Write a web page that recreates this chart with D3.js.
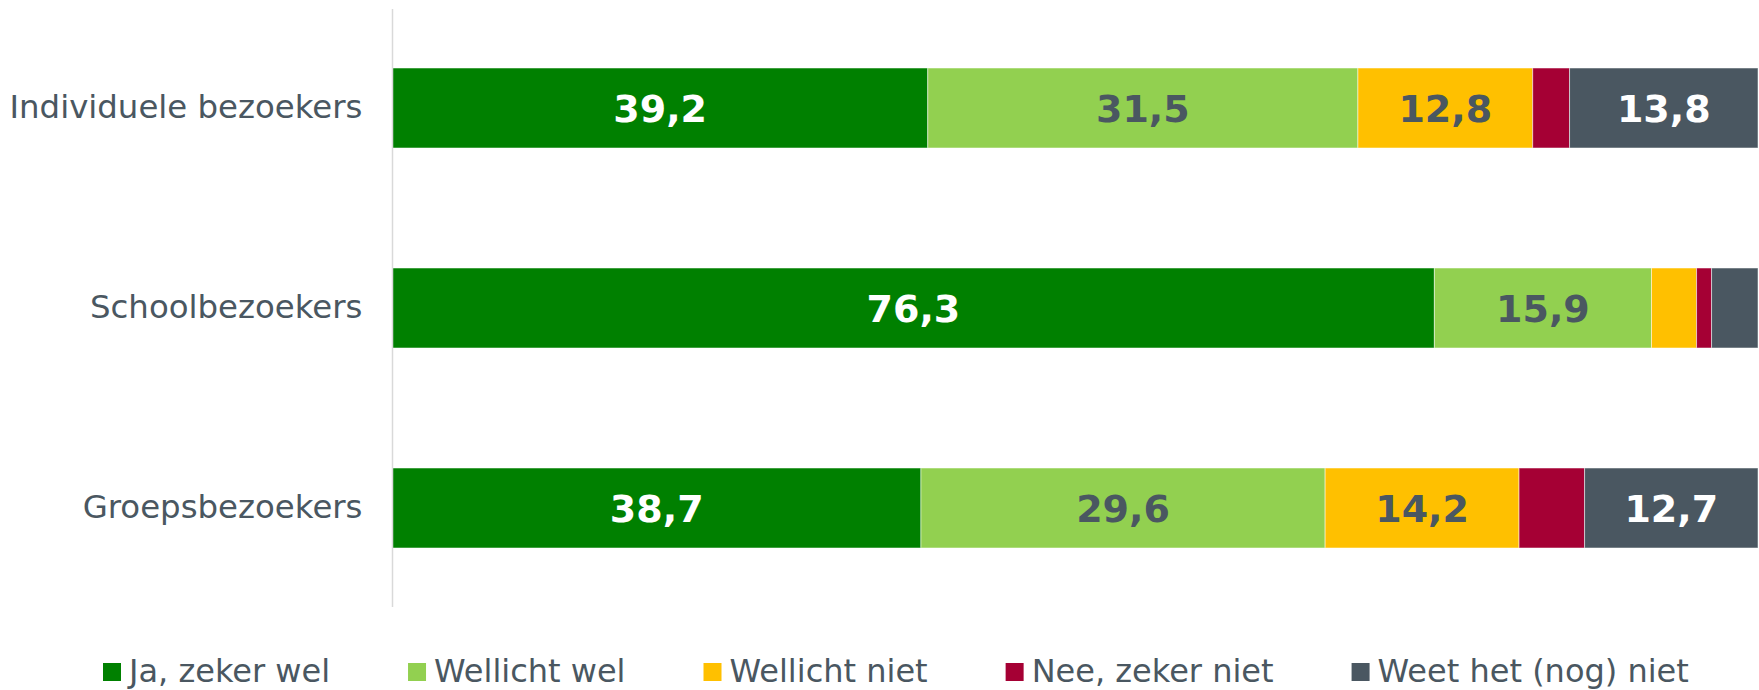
<!DOCTYPE html>
<html>
<head>
<meta charset="utf-8">
<script src="https://cdn.jsdelivr.net/npm/d3@7"></script>
<style>
  body { margin: 0; background: #fff; }
  svg { display: block; }
  text { font-family: "DejaVu Sans", Verdana, sans-serif; }
</style>
</head>
<body>
<div id="vis"></div>
<script>
// data
var categories = ["Individuele bezoekers", "Schoolbezoekers", "Groepsbezoekers"];
var seriesNames = ["Ja, zeker wel", "Wellicht wel", "Wellicht niet", "Nee, zeker niet", "Weet het (nog) niet"];
var jaZekerWel = [39.2, 76.3, 38.7];
var wellichtWel = [31.5, 15.9, 29.6];
var wellichtNiet = [12.8, 3.3, 14.2];
var neeZekerNiet = [2.7, 1.1, 4.8];
var weetNiet = [13.8, 3.4, 12.7];

var colors = ["#008000", "#92d050", "#ffc000", "#a50034", "#4a5761"];
var labelColors = ["#ffffff", "#4a5761", "#4a5761", "#ffffff", "#ffffff"];
var textColor = "#4a5761";

var W = 1759, H = 690;

var svg = d3.select("#vis").append("svg")
    .attr("width", W)
    .attr("height", H);

var x = d3.scaleLinear().domain([0, 100]).range([392.5, 1758]);
var y = d3.scaleBand().domain(categories).range([8, 608])
    .paddingInner(0.6).paddingOuter(0.3);

var rows = categories.map(function (c, i) {
    return {
        cat: c,
        0: jaZekerWel[i], 1: wellichtWel[i], 2: wellichtNiet[i],
        3: neeZekerNiet[i], 4: weetNiet[i]
    };
});
var stack = d3.stack().keys([0, 1, 2, 3, 4]);
var layers = stack(rows);

var g = svg.append("g");

var layer = g.selectAll(".layer")
    .data(layers)
    .enter().append("g")
    .attr("class", "layer")
    .attr("fill", function (d) { return colors[d.key]; });

layer.selectAll("rect")
    .data(function (d) { return d; })
    .enter().append("rect")
    .attr("x", function (d) { return x(d[0]); })
    .attr("y", function (d) { return y(d.data.cat); })
    .attr("width", function (d) { return x(d[1]) - x(d[0]); })
    .attr("height", y.bandwidth())
    .attr("stroke", "#ffffff")
    .attr("stroke-opacity", 0.5)
    .attr("stroke-width", 1);

// value labels only for the bigger pieces
layer.selectAll(".val")
    .data(function (d) { return d.map(function (p) { p.key = d.key; return p; }); })
    .enter().filter(function (d) { return d[1] - d[0] >= 10; })
    .append("text")
    .attr("class", "val")
    .attr("x", function (d) { return (x(d[0]) + x(d[1])) / 2; })
    .attr("y", function (d) { return y(d.data.cat) + y.bandwidth() / 2; })
    .attr("dy", "0.36em")
    .attr("text-anchor", "middle")
    .attr("font-size", 38)
    .attr("font-weight", "bold")
    .attr("fill", function (d) { return labelColors[d.key]; })
    .text(function (d) { return String(d3.format(".1f")(d[1] - d[0])).replace(".", ","); });

// axis line
var yAxis = d3.axisLeft(y).tickSize(0).tickPadding(30);
var ax = svg.append("g")
    .attr("transform", "translate(" + 392.5 + ",0)")
    .call(yAxis);
ax.select(".domain").attr("stroke", "#d9d9d9").attr("stroke-width", 1.5)
    .attr("d", "M0,9V607");
ax.selectAll(".tick text")
    .attr("font-size", 32.4)
    .attr("font-family", "DejaVu Sans, Verdana, sans-serif")
    .attr("fill", textColor);

// legend
var legend = svg.append("g").attr("class", "legend");
var lx = 103;
seriesNames.forEach(function (name, i) {
    var item = legend.append("g").attr("transform", "translate(" + lx + ",0)");
    item.append("rect")
        .attr("x", 0).attr("y", 663)
        .attr("width", 18).attr("height", 18)
        .attr("fill", colors[i]);
    var t = item.append("text")
        .attr("x", 26).attr("y", 682)
        .attr("font-size", 32)
        .attr("fill", textColor)
        .text(name);
    lx += 26 + t.node().getComputedTextLength() + 78;
});
</script>
</body>
</html>
